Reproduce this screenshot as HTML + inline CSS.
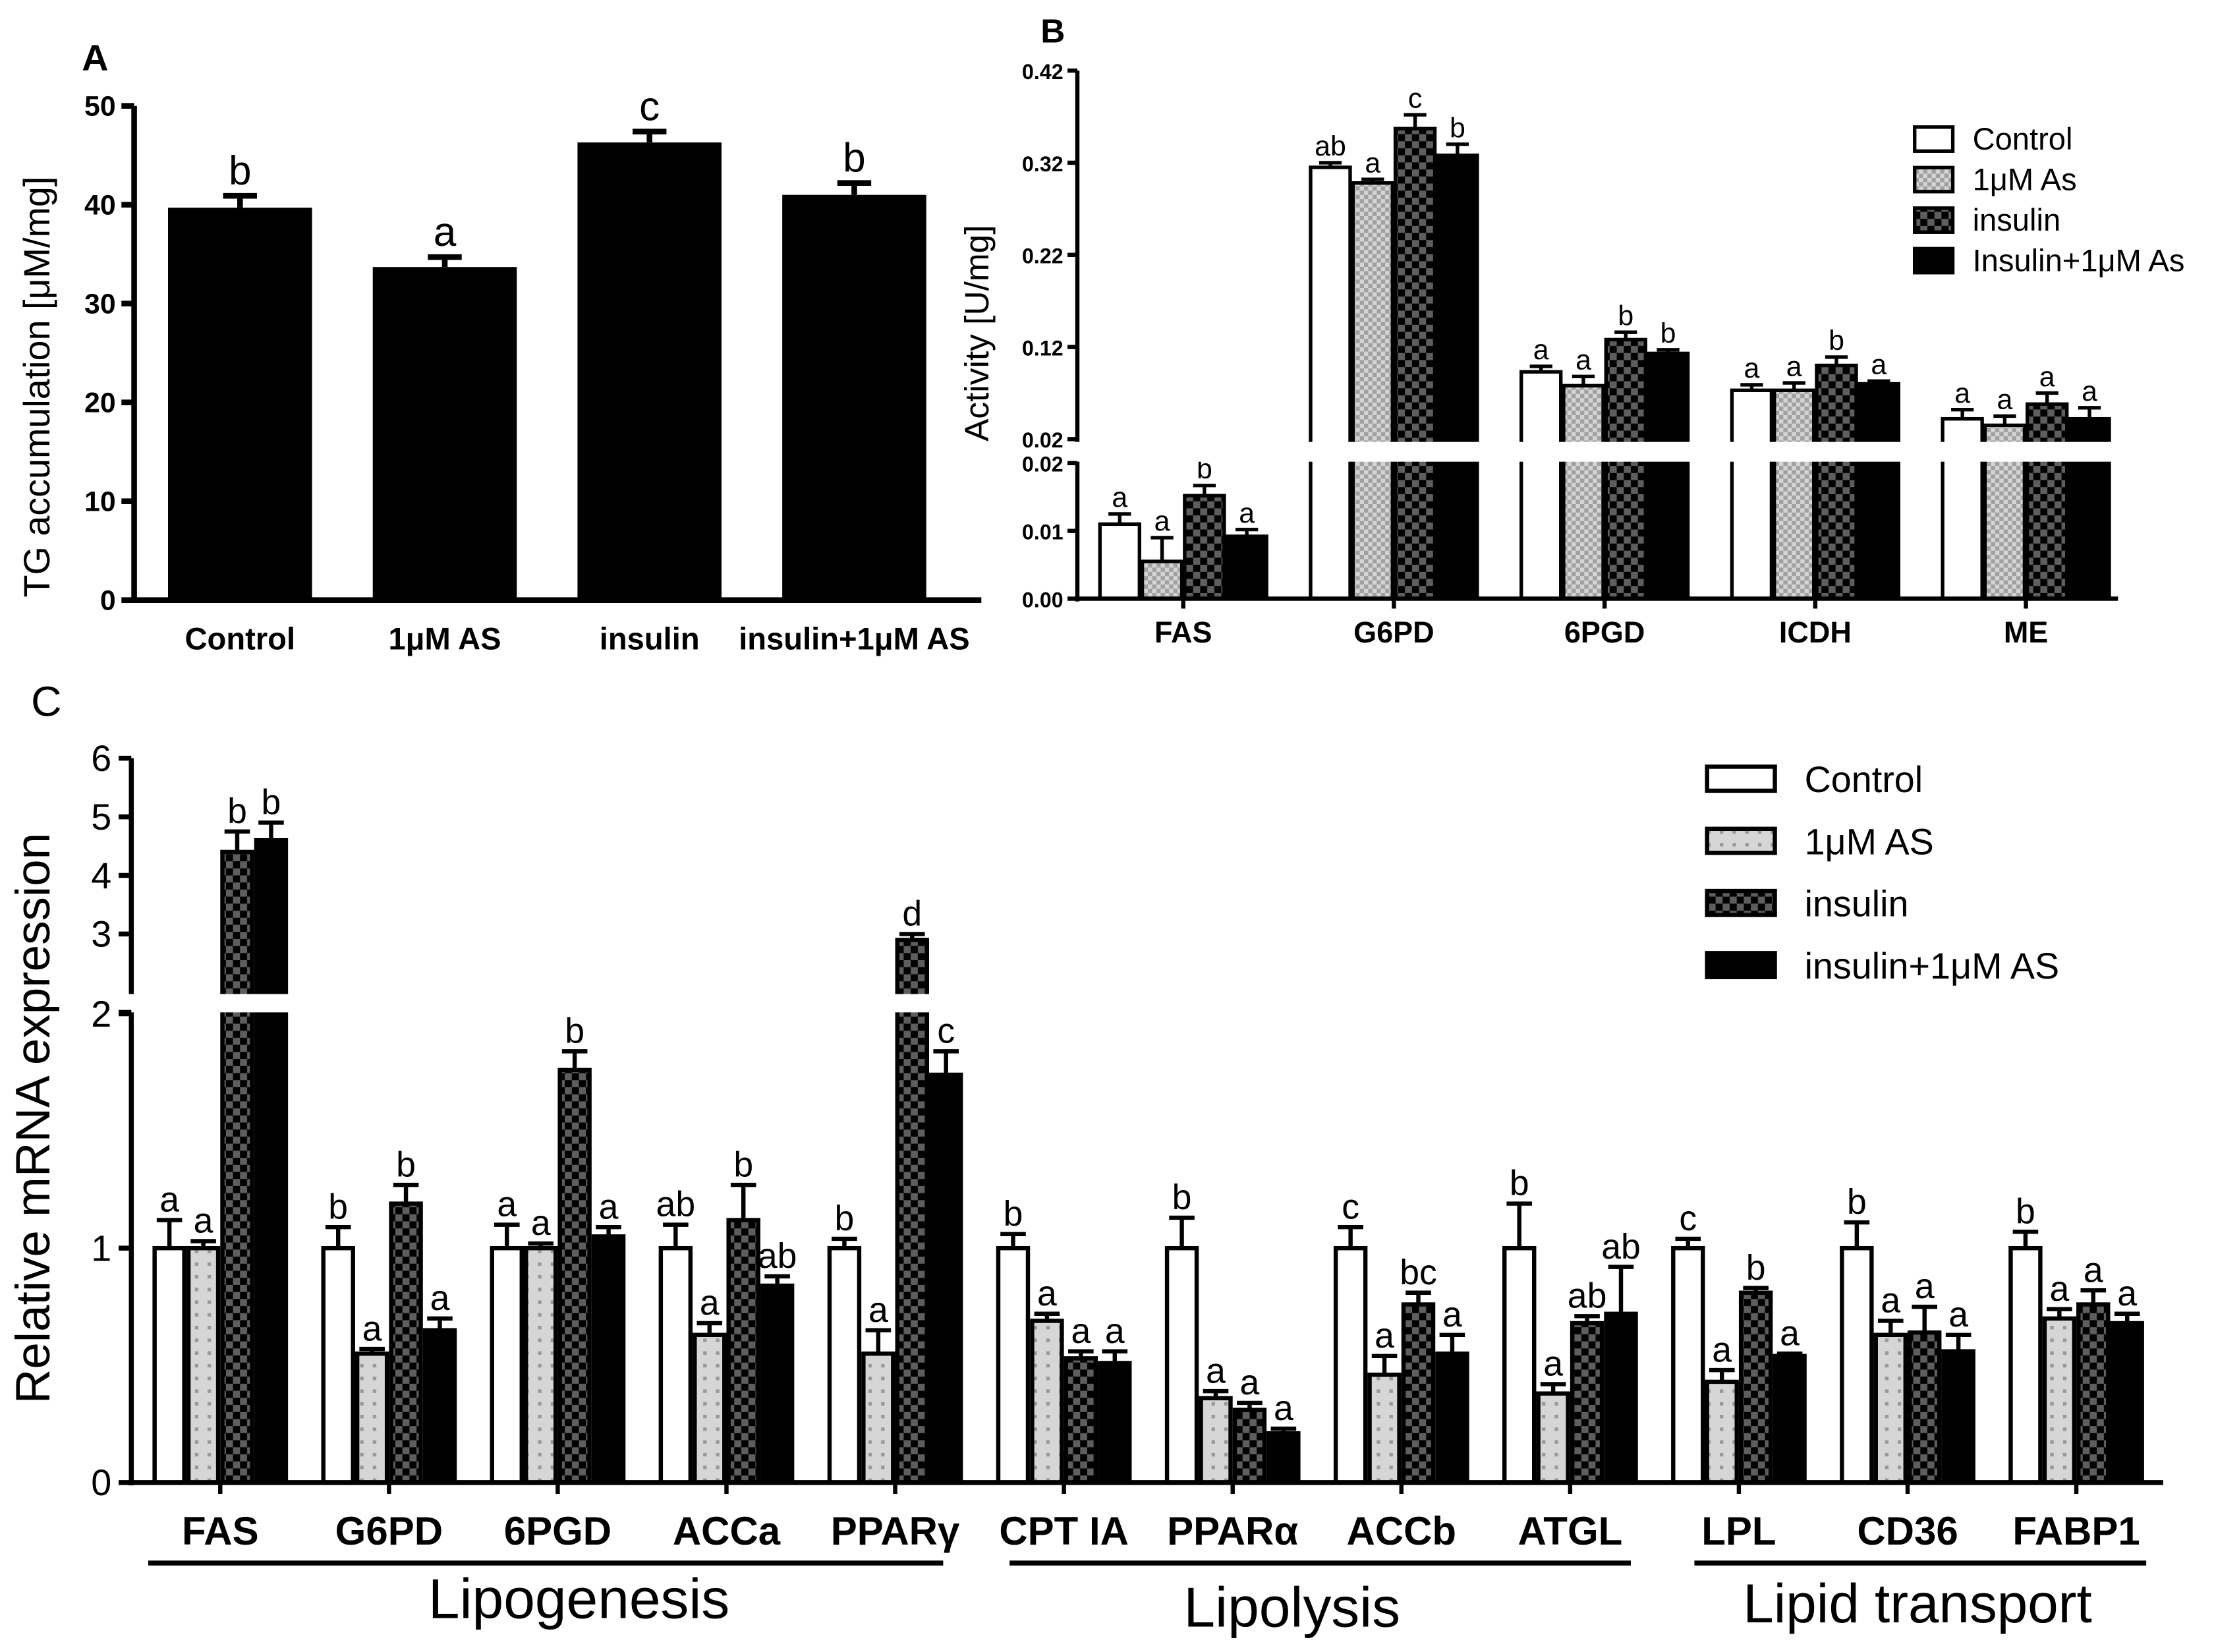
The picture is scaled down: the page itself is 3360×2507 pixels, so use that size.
<!DOCTYPE html>
<html><head><meta charset="utf-8"><style>
html,body{margin:0;padding:0;background:#fff}
svg{display:block}
text{font-family:"Liberation Sans",Arial,sans-serif;fill:#000}
</style></head><body>
<svg id="fig" xmlns="http://www.w3.org/2000/svg" width="3360" height="2507" viewBox="0 0 1568 1170" preserveAspectRatio="none">
<defs>
<pattern id="pCheckLight" width="6" height="6" patternUnits="userSpaceOnUse"><rect width="6" height="6" fill="#d4d4d4"/><rect width="3" height="3" fill="#a0a0a0"/><rect x="3" y="3" width="3" height="3" fill="#a0a0a0"/></pattern>
<pattern id="pCheckDark" width="10" height="10" patternUnits="userSpaceOnUse"><rect width="10" height="10" fill="#000"/><rect width="5" height="5" fill="#5e5e5e"/><rect x="5" y="5" width="5" height="5" fill="#5e5e5e"/></pattern>
<pattern id="pDots" width="9" height="9" patternUnits="userSpaceOnUse"><rect width="9" height="9" fill="#d6d6d6"/><rect x="3" y="3" width="2.5" height="2.5" fill="#999"/></pattern>
</defs>
<g id="gA"></g>
<g id="gB"></g>
<g id="gC"></g>
</svg>
<script>
// Panel A data
const aCategories = ["Control","1μM AS","insulin","insulin+1μM AS"];
const aValues = [39.7, 33.7, 46.3, 41.0];
const aErrors = [1.2, 1.0, 1.1, 1.2];
const aLetters = ["b","a","c","b"];
const aTicks = [0,10,20,30,40,50];
// Panel B data
const bCategories = ["FAS","G6PD","6PGD","ICDH","ME"];
const bSeries = ["Control","1μM As","insulin","Insulin+1μM As"];
const bControl = [0.011, 0.315, 0.093, 0.073, 0.042];
const bAs = [0.0055, 0.298, 0.078, 0.073, 0.035];
const bInsulin = [0.0152, 0.357, 0.128, 0.100, 0.058];
const bInsAs = [0.0092, 0.328, 0.113, 0.080, 0.042];
const bErrControl = [0.0015, 0.005, 0.006, 0.006, 0.010];
const bErrAs = [0.0035, 0.004, 0.010, 0.008, 0.010];
const bErrInsulin = [0.0015, 0.015, 0.008, 0.009, 0.012];
const bErrInsAs = [0.001, 0.012, 0.004, 0.003, 0.012];
const bLetters = [["a","a","b","a"],["ab","a","c","b"],["a","a","b","b"],["a","a","b","a"],["a","a","a","a"]];
const bTicksUpper = [0.02,0.12,0.22,0.32,0.42];
const bTicksLower = [0.00,0.01,0.02];
// Panel C data
const cCategories = ["FAS","G6PD","6PGD","ACCa","PPARγ","CPT IA","PPARα","ACCb","ATGL","LPL","CD36","FABP1"];
const cSeries = ["Control","1μM AS","insulin","insulin+1μM AS"];
const cControl = [1.0,1.0,1.0,1.0,1.0,1.0,1.0,1.0,1.0,1.0,1.0,1.0];
const cAs = [1.0,0.55,1.0,0.63,0.55,0.69,0.36,0.46,0.38,0.43,0.63,0.70];
const cInsulin = [4.4,1.19,1.76,1.12,2.9,0.53,0.31,0.76,0.68,0.81,0.64,0.76];
const cInsAs = [4.6,0.65,1.05,0.84,1.74,0.51,0.21,0.55,0.72,0.54,0.56,0.68];
const cErrControl = [0.12,0.09,0.10,0.10,0.04,0.06,0.13,0.09,0.19,0.04,0.11,0.07];
const cErrAs = [0.03,0.02,0.02,0.05,0.10,0.03,0.03,0.08,0.04,0.05,0.06,0.04];
const cErrInsulin = [0.35,0.08,0.08,0.15,0.10,0.03,0.03,0.05,0.03,0.02,0.11,0.06];
const cErrInsAs = [0.30,0.05,0.04,0.04,0.10,0.05,0.02,0.08,0.20,0.01,0.07,0.04];
const cLetters = [["a","a","b","b"],["b","a","b","a"],["a","a","b","a"],["ab","a","b","ab"],["b","a","d","c"],["b","a","a","a"],["b","a","a","a"],["c","a","bc","a"],["b","a","ab","ab"],["c","a","b","a"],["b","a","a","a"],["b","a","a","a"]];
const cTicksLower = [0,1,2];
const cTicksUpper = [2,3,4,5,6];

const NS="http://www.w3.org/2000/svg";
function mk(parent,tag,attrs,txt){const e=document.createElementNS(NS,tag);for(const k in attrs)e.setAttribute(k,attrs[k]);if(txt!==undefined)e.textContent=txt;parent.appendChild(e);return e;}

// ---------- Panel A ----------
const gA=document.getElementById('gA');
const aY=v=>425-7*v;
const aX=i=>170+145*i;
let t=mk(gA,'text',{x:58,y:50,'font-size':26,'font-weight':'bold'},'A');


t=mk(gA,'text',{x:0,y:0,'font-size':26,'text-anchor':'middle',transform:'translate(35,274) rotate(-90)'},'TG accumulation [μM/mg]');


aCategories.forEach((c,i)=>{
  const x=aX(i),y=aY(aValues[i]),ey=aY(aValues[i]+aErrors[i]);
  mk(gA,'line',{x1:x,x2:x,y1:y,y2:ey,stroke:'#000','stroke-width':4});
  mk(gA,'line',{x1:x-12,x2:x+12,y1:ey,y2:ey,stroke:'#000','stroke-width':4});
  const r=mk(gA,'rect',{x:x-51,y:y,width:102,height:425-y,fill:'#000'});
  
  
  const l=mk(gA,'text',{x:x,y:ey-8,'font-size':29,'text-anchor':'middle'},aLetters[i]);
  
  
  const xl=mk(gA,'text',{x:x,y:460,'font-size':22,'font-weight':'bold','text-anchor':'middle'},c);
  
  
});
mk(gA,'line',{x1:95,x2:95,y1:75,y2:427,stroke:'#000','stroke-width':4});
mk(gA,'line',{x1:93,x2:695,y1:425,y2:425,stroke:'#000','stroke-width':4});
aTicks.forEach(v=>{
  mk(gA,'line',{x1:86,x2:95,y1:aY(v),y2:aY(v),stroke:'#000','stroke-width':4});
  const tl=mk(gA,'text',{x:82,y:aY(v)+7,'font-size':20,'font-weight':'bold','text-anchor':'end'},v);
  
  
});

// ---------- Panel B ----------
const gB=document.getElementById('gB');
const bYU=v=>311-652.5*(v-0.02);
const bYL=v=>424-4800*v;
const bX=i=>838+149.2*i;
const bFills=['#fff','url(#pCheckLight)','url(#pCheckDark)','#000'];
const bVals=[bControl,bAs,bInsulin,bInsAs];
const bErrs=[bErrControl,bErrAs,bErrInsulin,bErrInsAs];
t=mk(gB,'text',{x:737,y:30,'font-size':24,'font-weight':'bold'},'B');


t=mk(gB,'text',{x:0,y:0,'font-size':24,'text-anchor':'middle',transform:'translate(700,236) rotate(-90)'},'Activity [U/mg]');


bCategories.forEach((c,i)=>{
  for(let s=0;s<4;s++){
    const v=bVals[s][i],e=bErrs[s][i];
    const x0=bX(i)-60+30*s, xc=x0+15;
    let y,ey;
    if(v<=0.02){y=bYL(v);ey=bYL(v+e);}else{y=bYU(v);ey=bYU(v+e);}
    mk(gB,'line',{x1:xc,x2:xc,y1:y,y2:ey,stroke:'#000','stroke-width':2.5});
    mk(gB,'line',{x1:xc-8,x2:xc+8,y1:ey,y2:ey,stroke:'#000','stroke-width':2.5});
    const r=mk(gB,'rect',{x:x0+1,y:y,width:28,height:424-y,fill:bFills[s],stroke:'#000','stroke-width':2.5});
    
    
    const l=mk(gB,'text',{x:xc,y:ey-5,'font-size':20,'text-anchor':'middle'},bLetters[i][s]);
    
    
  }
  const xl=mk(gB,'text',{x:bX(i),y:455,'font-size':21,'font-weight':'bold','text-anchor':'middle'},c);
  
  
});
mk(gB,'rect',{x:762,y:313,width:800,height:14,fill:'#fff'});
mk(gB,'line',{x1:763,x2:763,y1:50,y2:313,stroke:'#000','stroke-width':3});
mk(gB,'line',{x1:763,x2:763,y1:327,y2:426,stroke:'#000','stroke-width':3});
mk(gB,'line',{x1:762,x2:1500,y1:424,y2:424,stroke:'#000','stroke-width':3});
bCategories.forEach((c,i)=>mk(gB,'line',{x1:bX(i),x2:bX(i),y1:424,y2:431,stroke:'#000','stroke-width':3}));
bTicksUpper.forEach(v=>{
  mk(gB,'line',{x1:756,x2:763,y1:bYU(v),y2:bYU(v),stroke:'#000','stroke-width':3});
  const tl=mk(gB,'text',{x:753,y:bYU(v)+6,'font-size':15,'font-weight':'bold','text-anchor':'end'},v.toFixed(2));
  
  
});
bTicksLower.forEach(v=>{
  mk(gB,'line',{x1:756,x2:763,y1:bYL(v),y2:bYL(v),stroke:'#000','stroke-width':3});
  const tl=mk(gB,'text',{x:753,y:bYL(v)+6,'font-size':15,'font-weight':'bold','text-anchor':'end'},v.toFixed(2));
  
  
});
bSeries.forEach((s,i)=>{
  const y=90+28.7*i;
  const r=mk(gB,'rect',{x:1356,y:y,width:27,height:17,fill:bFills[i],stroke:'#000','stroke-width':2.5});
  
  
  const l=mk(gB,'text',{x:1397,y:y+16,'font-size':22},s);
  
  
});

// ---------- Panel C ----------
const gC=document.getElementById('gC');
const cY=v=>v<=2?1050-166*v:703-41.5*(v-2);
const cX=i=>156+119.5*i;
const cFills=['#fff','url(#pDots)','url(#pCheckDark)','#000'];
const cVals=[cControl,cAs,cInsulin,cInsAs];
const cErrs=[cErrControl,cErrAs,cErrInsulin,cErrInsAs];
t=mk(gC,'text',{x:22,y:507,'font-size':30},'C');


t=mk(gC,'text',{x:0,y:0,'font-size':34,'text-anchor':'middle',transform:'translate(35,792) rotate(-90)'},'Relative mRNA expression');


cCategories.forEach((c,i)=>{
  for(let s=0;s<4;s++){
    const v=cVals[s][i],e=cErrs[s][i];
    const x0=cX(i)-48+24*s, xc=x0+12;
    const y=cY(v),ey=cY(v+e);
    mk(gC,'line',{x1:xc,x2:xc,y1:y,y2:ey,stroke:'#000','stroke-width':3});
    mk(gC,'line',{x1:xc-9,x2:xc+9,y1:ey,y2:ey,stroke:'#000','stroke-width':3});
    const r=mk(gC,'rect',{x:x0+1.5,y:y,width:21,height:1050-y,fill:cFills[s],stroke:'#000','stroke-width':3});
    
    
    const l=mk(gC,'text',{x:xc,y:ey-6,'font-size':25,'text-anchor':'middle'},cLetters[i][s]);
    
    
  }
  const xl=mk(gC,'text',{x:cX(i),y:1094,'font-size':28,'font-weight':'bold','text-anchor':'middle'},c);
  
  
});
mk(gC,'rect',{x:92,y:704,width:1440,height:13,fill:'#fff'});
mk(gC,'line',{x1:93,x2:93,y1:537,y2:704,stroke:'#000','stroke-width':3.5});
mk(gC,'line',{x1:93,x2:93,y1:717,y2:1052,stroke:'#000','stroke-width':3.5});
mk(gC,'line',{x1:92,x2:1532,y1:1050,y2:1050,stroke:'#000','stroke-width':3.5});
cCategories.forEach((c,i)=>mk(gC,'line',{x1:cX(i),x2:cX(i),y1:1050,y2:1058,stroke:'#000','stroke-width':3}));
cTicksLower.forEach(v=>{
  mk(gC,'line',{x1:84,x2:93,y1:cY(v)+(v===2?-1:0),y2:cY(v)+(v===2?-1:0),stroke:'#000','stroke-width':3.5});
  const tl=mk(gC,'text',{x:79,y:cY(v)+9,'font-size':26,'text-anchor':'end'},v);
  
  
});
cTicksUpper.forEach(v=>{
  mk(gC,'line',{x1:84,x2:93,y1:cY(v),y2:cY(v),stroke:'#000','stroke-width':3.5});
  const tl=mk(gC,'text',{x:79,y:cY(v)+9,'font-size':26,'text-anchor':'end'},v);
  
  
});
cSeries.forEach((s,i)=>{
  const y=543+44*i;
  const r=mk(gC,'rect',{x:1209,y:y,width:48,height:17,fill:cFills[i],stroke:'#000','stroke-width':3});
  
  
  const l=mk(gC,'text',{x:1278,y:y+18,'font-size':26},s);
  
  
});
const groups=[["Lipogenesis",105,668,410,1146,40],["Lipolysis",715,1155,915,1152,40],["Lipid transport",1200,1520,1358,1149,39]];
groups.forEach(g=>{
  const ln=mk(gC,'line',{x1:g[1],x2:g[2],y1:1107,y2:1107,stroke:'#000','stroke-width':3.5});
  
  
  const tx=mk(gC,'text',{x:g[3],y:g[4],'font-size':g[5],'text-anchor':'middle'},g[0]);
  
  
});
</script>
</body></html>
